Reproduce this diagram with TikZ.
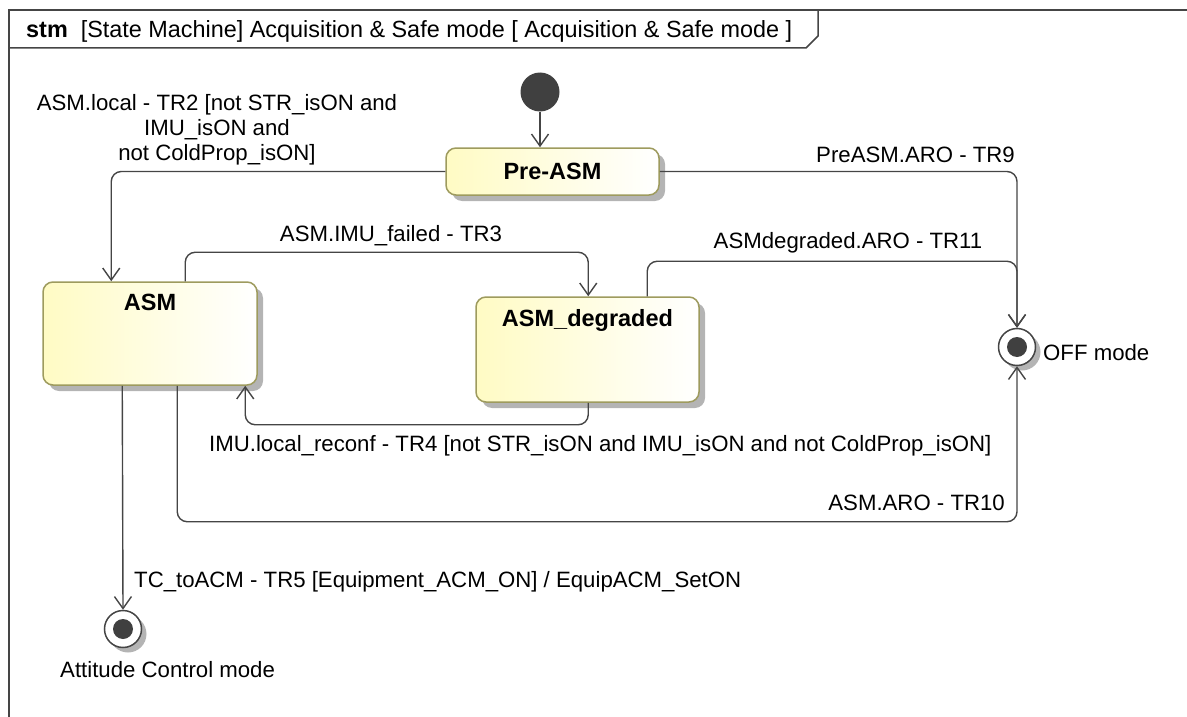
\documentclass[tikz,border=0pt]{standalone}
\usepackage{fontspec}
\setmainfont{Liberation Sans}
\usetikzlibrary{arrows.meta,shadows,calc}
\definecolor{ln}{HTML}{454545}
\definecolor{stborder}{HTML}{9E9B5E}
\definecolor{stfill}{HTML}{FFFBC4}
\definecolor{dotc}{HTML}{404040}
\definecolor{shd}{HTML}{B4B4B4}
\begin{document}
\begin{tikzpicture}[x=1pt,y=-1pt,
  every node/.style={font=\fontsize{22}{25}\selectfont, inner sep=0pt},
  statebox/.style={draw=stborder, line width=1.5pt, rounded corners=10pt,
    left color=stfill, right color=white,
    general shadow={fill=shd, shadow xshift=6pt, shadow yshift=-6pt}},
  statename/.style={font=\fontsize{23.5}{25}\selectfont\bfseries},
  finalst/.style={circle, draw=ln, line width=1.5pt, fill=white, minimum size=37pt,
    general shadow={fill=shd, shadow xshift=5pt, shadow yshift=-5pt}},
  conn/.style={draw=ln, line width=1.4pt, rounded corners=10pt,
    -{Straight Barb[length=12pt,width=17pt]}},
  lbl/.style={font=\fontsize{22.2}{25}\selectfont},
  framel/.style={draw=ln, line width=1.5pt}
]
\useasboundingbox (0,0) rectangle (1187,717);
\clip (0,0) rectangle (1187,717);

% frame
\draw[framel] (9,740) -- (9,10) -- (1200,10);
\draw[framel] (9,48) -- (806,48) -- (818,36) -- (818,10);
\node[anchor=west, font=\fontsize{23.4}{26}\selectfont] (title) at (26,31) {\textbf{stm}\ \ [State Machine] Acquisition \& Safe mode [ Acquisition \& Safe mode ]};

% states
\node[circle, fill=dotc, minimum size=39pt] (init) at (540,92) {};
\node[statebox, statename, minimum width=213pt, minimum height=47pt] (preasm) at (552.5,171.5) {Pre-ASM};
\node[statebox, minimum width=214pt, minimum height=103pt] (asm) at (150,333.5) {};
\node[statename, anchor=base] (asmlbl) at ([yshift=-29pt]asm.north) {ASM};
\node[statebox, minimum width=223pt, minimum height=105pt] (asmdeg) at (587.5,349.5) {};
\node[statename, anchor=base] (asmdeglbl) at ([yshift=-30pt]asmdeg.north) {ASM\_degraded};

\node[finalst] (off) at (1017,347) {};
\fill[dotc] (off.center) circle (10pt);
\node[lbl, anchor=west] (offlbl) at (1043,353) {OFF mode};

\node[finalst] (acm) at (123,629) {};
\fill[dotc] (acm.center) circle (10pt);
\node[lbl, anchor=west] (acmlbl) at (60,670) {Attitude Control mode};

% transitions
\draw[conn] (init.south) -- (init.south |- preasm.north);

\draw[conn] (preasm.west) -| ([xshift=69pt]asm.north west);
\node[lbl, align=center] (tr2) at (217,130) {ASM.local - TR2 [not STR\_isON and\\IMU\_isON and\\not ColdProp\_isON]};

\draw[conn] ([xshift=143pt]asm.north west) -- ++(0,-29) -| ([xshift=113pt]asmdeg.north west);
\node[lbl] (tr3) at (391,236) {ASM.IMU\_failed - TR3};

\draw[conn] ([xshift=113pt]asmdeg.south west) -- ++(0,22) -| ([xshift=203pt]asm.south west);
\node[lbl, anchor=west] (tr4) at (209,446) {IMU.local\_reconf - TR4 [not STR\_isON and IMU\_isON and not ColdProp\_isON]};

\draw[conn] ([xshift=80pt]asm.south west) -- (acm.north);
\node[lbl, anchor=west] (tr5) at (134,582) {TC\_toACM - TR5 [Equipment\_ACM\_ON] / EquipACM\_SetON};

\draw[conn] ([xshift=135pt]asm.south west) -- ++(0,136) -| (off.south);
\node[lbl, anchor=east] (tr10) at (1005,503) {ASM.ARO - TR10};

\draw[conn] (preasm.east) -| (off.north);
\node[lbl, anchor=east] (tr9) at (1015,155) {PreASM.ARO - TR9};

\draw[conn] ([xshift=172pt]asmdeg.north west) -- ++(0,-35) -| (off.north);
\node[lbl] (tr11) at (848,243) {ASMdegraded.ARO - TR11};
\end{tikzpicture}
\end{document}
